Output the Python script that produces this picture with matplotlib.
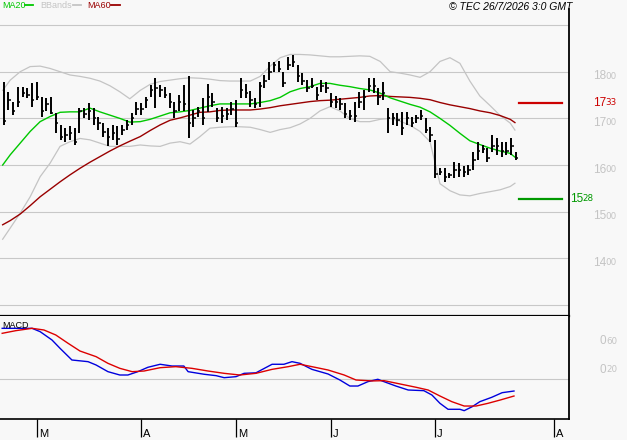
import matplotlib
matplotlib.use("Agg")
import numpy as np
import matplotlib.pyplot as plt
import matplotlib.transforms as mtransforms
from matplotlib.lines import Line2D

# ---------------- data ----------------
high = [1779, 1757, 1736, 1768, 1768, 1765, 1775, 1777, 1746, 1744,
        1746, 1711, 1686, 1679, 1683, 1679, 1722, 1722, 1733, 1722,
        1704, 1690, 1679, 1686, 1683, 1686, 1697, 1711, 1736, 1733,
        1746, 1772, 1786, 1772, 1767, 1754, 1736, 1750, 1772, 1791,
        1718, 1725, 1743, 1773, 1754, 1722, 1725, 1722, 1736, 1740,
        1786, 1773, 1758, 1744, 1779, 1793, 1821, 1821, 1822, 1800,
        1832, 1836, 1814, 1797, 1782, 1786, 1768, 1782, 1779, 1754,
        1747, 1744, 1733, 1718, 1736, 1757, 1761, 1786, 1786, 1765,
        1779, 1722, 1711, 1711, 1714, 1714, 1704, 1707, 1718, 1700,
        1682, 1654, 1593, 1593, 1583, 1607, 1604, 1597, 1600, 1629,
        1650, 1643, 1636, 1664, 1657, 1650, 1650, 1657, 1629]
low = [1686, 1718, 1707, 1725, 1746, 1744, 1725, 1740, 1704, 1715,
       1709, 1668, 1654, 1650, 1654, 1643, 1668, 1700, 1697, 1686,
       1675, 1661, 1640, 1654, 1643, 1665, 1675, 1686, 1707, 1707,
       1722, 1746, 1722, 1746, 1743, 1722, 1700, 1715, 1715, 1658,
       1682, 1704, 1686, 1714, 1725, 1692, 1690, 1697, 1707, 1682,
       1743, 1743, 1725, 1722, 1725, 1765, 1782, 1800, 1800, 1768,
       1804, 1811, 1779, 1772, 1757, 1765, 1740, 1757, 1754, 1725,
       1722, 1719, 1700, 1697, 1693, 1722, 1719, 1757, 1754, 1729,
       1739, 1668, 1686, 1683, 1664, 1686, 1682, 1690, 1697, 1668,
       1650, 1572, 1579, 1564, 1572, 1572, 1575, 1575, 1579, 1590,
       1611, 1625, 1607, 1629, 1622, 1618, 1622, 1622, 1611]
close = [1695, 1740, 1715, 1735, 1755, 1750, 1740, 1745, 1715, 1730,
         1712, 1690, 1660, 1665, 1668, 1650, 1715, 1710, 1715, 1700,
         1690, 1670, 1660, 1668, 1655, 1675, 1685, 1700, 1720, 1720,
         1740, 1760, 1765, 1760, 1750, 1735, 1715, 1735, 1730, 1690,
         1700, 1715, 1700, 1745, 1735, 1700, 1705, 1710, 1720, 1690,
         1760, 1755, 1740, 1730, 1770, 1780, 1800, 1815, 1805, 1775,
         1815, 1820, 1790, 1780, 1765, 1770, 1750, 1770, 1765, 1735,
         1735, 1730, 1710, 1705, 1705, 1735, 1745, 1770, 1770, 1745,
         1755, 1700, 1700, 1697, 1680, 1700, 1690, 1700, 1705, 1675,
         1665, 1580, 1585, 1575, 1578, 1590, 1590, 1585, 1590, 1610,
         1630, 1635, 1615, 1640, 1640, 1630, 1630, 1640, 1615]

# trading-day positions where indicator lines were sampled
ind_day = [-0.2, 1.4, 3.5, 5.6, 7.7, 9.8, 11.9, 14.0, 16.1, 18.2,
           20.3, 22.4, 24.5, 26.6, 28.8, 30.9, 33.0, 35.1, 37.2, 39.3,
           41.4, 43.5, 45.6, 47.7, 49.8, 52.0, 54.1, 56.2, 58.3, 60.4,
           62.5, 64.6, 66.7, 68.8, 70.9, 73.0, 75.1, 77.2, 79.4, 81.5,
           83.6, 85.7, 87.8, 89.9, 92.0, 94.1, 96.2, 98.3, 100.4, 102.6,
           104.7, 106.8, 107.8]
ma20 = [1600, 1622, 1647, 1672, 1693, 1704, 1713, 1714, 1714, 1722,
        1714, 1707, 1700, 1692, 1693, 1698, 1705, 1712, 1714, 1717,
        1722, 1727, 1731, 1731, 1731, 1731, 1734, 1738, 1745, 1757,
        1764, 1768, 1775, 1775, 1771, 1768, 1764, 1761, 1754, 1744,
        1737, 1730, 1724, 1714, 1700, 1685, 1668, 1652, 1644, 1636,
        1630, 1625, 1617]
ma60 = [1472, 1481, 1495, 1513, 1532, 1548, 1564, 1579, 1593, 1606,
        1618, 1630, 1641, 1651, 1661, 1674, 1686, 1696, 1701, 1707,
        1713, 1714, 1717, 1718, 1718, 1718, 1720, 1723, 1727, 1730,
        1733, 1736, 1738, 1739, 1741, 1743, 1745, 1748, 1749, 1747,
        1746, 1745, 1743, 1740, 1734, 1729, 1725, 1721, 1716, 1712,
        1706, 1698, 1691]
bb_upper = [1760, 1782, 1800, 1811, 1812, 1807, 1800, 1793, 1790, 1786,
            1780, 1770, 1757, 1742, 1760, 1773, 1779, 1782, 1785, 1787,
            1786, 1784, 1781, 1780, 1780, 1780, 1790, 1812, 1830, 1837,
            1837, 1836, 1834, 1832, 1832, 1833, 1834, 1833, 1822, 1800,
            1797, 1793, 1788, 1800, 1822, 1830, 1818, 1780, 1748, 1727,
            1706, 1690, 1675]
bb_lower = [1441, 1465, 1497, 1532, 1575, 1604, 1640, 1650, 1657, 1654,
            1647, 1640, 1640, 1640, 1643, 1641, 1640, 1647, 1650, 1645,
            1661, 1679, 1681, 1682, 1682, 1681, 1676, 1670, 1676, 1680,
            1688, 1700, 1716, 1725, 1716, 1700, 1693, 1693, 1698, 1700,
            1694, 1685, 1672, 1650, 1560, 1545, 1536, 1534, 1539, 1543,
            1547, 1554, 1561]

macd_day = [-0.3, 6.0, 7.7, 10.2, 11.9, 14.4, 17.8, 19.5, 22.0, 24.5,
            26.2, 28.3, 30.4, 33.0, 35.5, 38.0, 38.9, 42.3, 44.8, 46.5,
            49.0, 50.7, 53.2, 56.6, 59.1, 60.8, 62.5, 65.0, 68.4, 70.9,
            73.0, 74.7, 76.8, 78.9, 80.2, 82.7, 85.3, 88.6, 90.3, 92.0,
            93.7, 96.2, 97.1, 98.8, 100.4, 102.9, 105.1, 107.6]
macd = [70.6, 70.6, 66, 54.5, 43, 26.9, 24.6, 20, 10.8, 6.2,
        6.2, 10.8, 16.8, 21, 18.6, 18.6, 10.8, 7.2, 5.3, 2.5,
        3.9, 8.5, 9.2, 21, 21, 24.6, 22.3, 14, 7.6, -0.7,
        -9, -9, -3, 0.3, -3, -9, -14.5, -15.4, -21.4, -32.9,
        -41.1, -41.1, -43, -37.5, -30.6, -24.6, -18.2, -15.9]
sig_day = [-0.3, 2.6, 6.0, 8.5, 11.0, 13.6, 16.1, 19.5, 22.0, 24.5,
           27.1, 29.6, 33.0, 36.3, 39.7, 43.1, 46.5, 49.8, 53.2, 56.6,
           60.0, 62.5, 65.0, 68.4, 71.8, 74.3, 77.7, 80.2, 83.6, 87.0,
           89.5, 92.0, 94.5, 97.1, 99.6, 102.1, 104.7, 107.6]
signal = [63.7, 67.4, 70.6, 68.3, 61.4, 49.9, 39.3, 31.5, 22.3, 15.4,
          10.8, 11.7, 16.3, 17.7, 15.4, 11.7, 8.5, 6.2, 8.5, 14,
          17.7, 21, 17.7, 13.1, 6.2, -0.7, -2, -1.6, -6.2, -10.8,
          -14.5, -22.8, -30.6, -36.6, -36.6, -32.9, -28.3, -22.8]

grid_levels = [1300, 1400, 1500, 1600, 1700, 1800, 1900]
price_labels = [1400, 1500, 1600, 1700, 1800]
macd_ticks = [60, 20]
macd_tick_labels = ["060", "020"]
resistance = 1733
support = 1528
month_days = [7, 29, 49, 69, 91, 116]
month_labels = ["M", "A", "M", "J", "J", "A"]

# ---------------- style ----------------
BG = "#f8f8f8"
GRID = "#c8c8c8"
GREEN = "#00c800"
DARKRED = "#990000"
plt.rcParams['font.family'] = ['Liberation Sans', 'DejaVu Sans']

W, H = 627, 440
fig = plt.figure(figsize=(W / 100, H / 100), dpi=100, facecolor=BG)


def fx(px):
    return px / W


def fy(py):
    return 1 - py / H


ax = fig.add_axes([0, fy(316), fx(569), (316 - 9) / H], facecolor=BG)
axm = fig.add_axes([0, fy(419), fx(569), (419 - 316) / H], facecolor=BG)

for a in (ax, axm):
    a.set_xlim(-0.76, 119.2)
    a.spines['top'].set_visible(False)
    a.spines['left'].set_visible(False)
    a.spines['right'].set_color('black')
    a.spines['right'].set_linewidth(1.3)
    a.spines['bottom'].set_color('black')
    a.set_yticks([])
ax.set_xticks([])
ax.spines['bottom'].set_linewidth(1.6)
axm.spines['bottom'].set_linewidth(1.2)
ax.set_ylim(1276.5, 1934.4)
axm.set_ylim(-54.5, 87.6)

# grid
for g in grid_levels:
    ax.axhline(g, color=GRID, lw=0.8, zorder=1)
axm.axhline(0, color=GRID, lw=0.8, zorder=1)

# indicators
ax.plot(ind_day, bb_upper, color="#c4c4c4", lw=0.9, zorder=2)
ax.plot(ind_day, bb_lower, color="#c4c4c4", lw=0.9, zorder=2)
ax.plot(ind_day, ma60, color=DARKRED, lw=1.0, zorder=3)
ax.plot(ind_day, ma20, color=GREEN, lw=1.0, zorder=3)

# HLC bars
days = np.arange(len(high))
ax.vlines(days, low, high, color='black', lw=1.4, zorder=5)
ax.hlines(close, days, days + 0.5, color='black', lw=1.1, zorder=5)

# support / resistance markers
trb = mtransforms.blended_transform_factory(ax.transAxes, ax.transData)
ax.plot([519 / 569, 562 / 569], [resistance, resistance], color="#cc0000",
        lw=1.6, transform=trb, clip_on=False, zorder=4)
ax.plot([519 / 569, 562 / 569], [support, support], color="#009900",
        lw=1.6, transform=trb, clip_on=False, zorder=4)


def split_label(txt, px_x, yval, axis, dy_px, color, nsmall=2):
    base = mtransforms.blended_transform_factory(fig.transFigure, axis.transData)
    tr = mtransforms.offset_copy(base, fig=fig, x=0, y=-dy_px, units='dots')
    big, small = txt[:-nsmall], txt[-nsmall:]
    fig.text(fx(px_x), yval, big, transform=tr, fontsize=8.5, color=color,
             va='center', ha='left', family='Liberation Sans')
    fig.text(fx(px_x + 6.1 * len(big)), yval, small, transform=tr,
             fontsize=6.3, color=color, va='center', ha='left',
             family='DejaVu Sans')


for v in price_labels:
    split_label(str(v), 593, v, ax, 4.5, "#c4c4c4")
split_label(str(resistance), 593, resistance, ax, 0, "#cc0000")
split_label(str(support), 570, support, ax, 0, "#009900")
for v, t in zip(macd_ticks, macd_tick_labels):
    split_label(t, 600, v, axm, 5, "#c4c4c4")

# MACD
axm.plot(macd_day, macd, color="#0000dd", lw=1.0, zorder=3)
axm.plot(sig_day, signal, color="#dd0000", lw=1.0, zorder=3)
fig.text(fx(2), fy(325), "MACD", fontsize=6.5, color='black', va='center',
         ha='left')

# month ticks
axm.set_xticks(month_days)
axm.set_xticklabels([])
axm.tick_params(axis='x', length=13, width=0.9, direction='out',
                color='black')
trx = mtransforms.offset_copy(
    mtransforms.blended_transform_factory(axm.transData, fig.transFigure),
    fig=fig, x=2, y=0, units='dots')
for d, lab in zip(month_days, month_labels):
    fig.text(d, fy(437), lab, transform=trx, fontsize=8, color='black',
             ha='left', va='baseline')

# header legend
fig.text(fx(2), fy(5.5), "MA20", color=GREEN, fontsize=6.5, va='center', ha='left')
fig.add_artist(Line2D([fx(25), fx(33)], [fy(5.5), fy(5.5)], color=GREEN, lw=1.3))
fig.text(fx(40), fy(5.5), "BBands", color="#c4c4c4", fontsize=6.5, va='center', ha='left')
fig.add_artist(Line2D([fx(73), fx(81)], [fy(5.5), fy(5.5)], color="#c4c4c4", lw=1.3))
fig.text(fx(87), fy(5.5), "MA60", color=DARKRED, fontsize=6.5, va='center', ha='left')
fig.add_artist(Line2D([fx(111), fx(120)], [fy(5.5), fy(5.5)], color=DARKRED, lw=1.3))

fig.text(fx(449), fy(6.5), "\u00a9 TEC 26/7/2026 3:0 GMT", style='italic',
         fontsize=7.5, color='black', va='center', ha='left')

fig.savefig("out.png", dpi=100, facecolor=BG)
